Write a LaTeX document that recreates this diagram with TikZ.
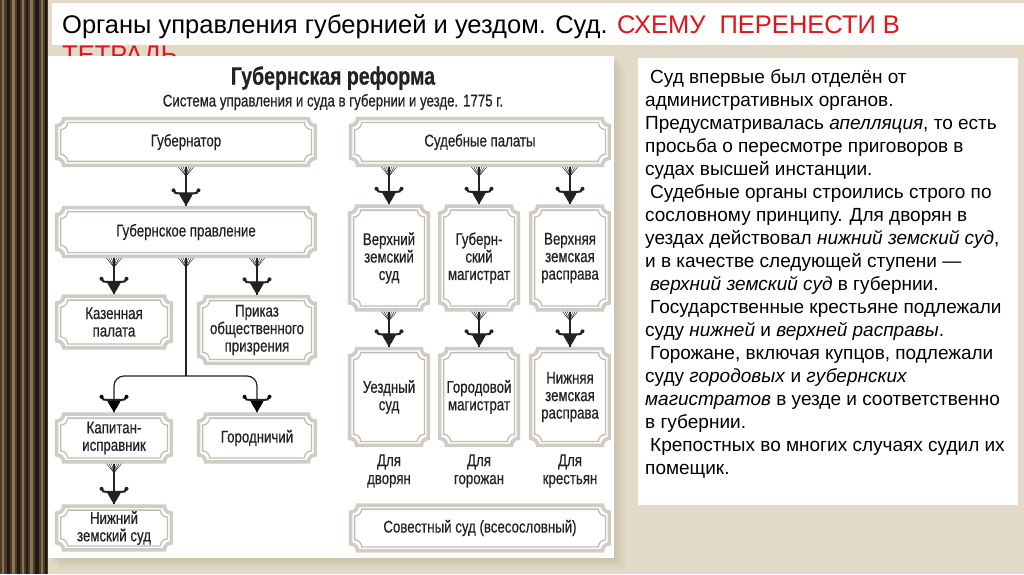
\documentclass[tikz,border=0pt]{standalone}
\usepackage{fontspec}
\setmainfont{Liberation Sans}
\newfontfamily\dfont[FakeStretch=0.78, FakeBold=0.5]{Liberation Sans}
\usetikzlibrary{arrows.meta, positioning, decorations.markings, calc}
\definecolor{mInk}{HTML}{222222}
\definecolor{mRed}{HTML}{E3141B}
\definecolor{mBeige}{HTML}{E2D9C8}
\definecolor{mShadow}{HTML}{8C7B60}
\definecolor{mFrameOut}{HTML}{D0CBC4}
\definecolor{mFrameIn}{HTML}{C2BCB4}
\definecolor{mWood}{HTML}{4B3B2B}
\definecolor{mWoodL}{HTML}{8C7453}
\definecolor{mWoodD}{HTML}{221A12}

\newcommand{\fanmark}{\foreach \a in {-7.5,-5,...,7.5} \draw[line width=0.45] (0,\a) -- (9,0);}
\newcommand{\tipmark}{%
  \begin{scope}[sharp corners]
  \fill (0,0) .. controls (-4,2.5) and (-8,5) .. (-13,7.5) -- (-13,-7.5) .. controls (-8,-5) and (-4,-2.5) .. (0,0);
  \draw[line width=2] (-15.5,-12) .. controls (-12.5,-11) .. (-12.5,-8) -- (-12.5,8) .. controls (-12.5,11) .. (-15.5,12);
  \fill (-15.5,-12.5) circle (2) (-15.5,12.5) circle (2);
  \end{scope}}

\begin{document}
\begin{tikzpicture}[x=1pt, y=1pt,
  plate/.style 2 args={minimum width=#1, minimum height=#2, inner sep=0pt, align=center,
    text=mInk, font=\dfont\fontsize{17}{17.5}\selectfont},
  fr/.style n args={3}{insert path={
    ([shift={(#2,-#2-#3)}]#1.north west) arc[start angle=270, end angle=360, radius=#3]
    -- ([shift={(-#2-#3,-#2)}]#1.north east) arc[start angle=180, end angle=270, radius=#3]
    -- ([shift={(-#2,#2+#3)}]#1.south east) arc[start angle=90, end angle=180, radius=#3]
    -- ([shift={(#2+#3,#2)}]#1.south west) arc[start angle=0, end angle=90, radius=#3]
    -- cycle}},
  link/.style={line width=1.2, draw=mInk, fill=mInk, postaction={decorate},
    decoration={markings, mark=at position 0 with {\fanmark}, mark=at position 1 with {\tipmark}}},
  stem/.style={line width=1.2, draw=mInk, postaction={decorate},
    decoration={markings, mark=at position 0 with {\fanmark}}},
  branch/.style={line width=1.2, draw=mInk, rounded corners=10, postaction={decorate},
    decoration={markings, mark=at position 1 with {\tipmark}}},
  group/.style={align=center, text=mInk, font=\dfont\fontsize{17}{18}\selectfont}]

  % background
  \fill[mBeige] (0,0) rectangle (1024,574);
  \useasboundingbox (0,0) rectangle (1024,574);
  \fill[mWood] (0,0) rectangle (48,574);
  \foreach \x/\w/\c in {2/2/mWoodL, 7/3/mWoodD, 12/3/mWoodL, 17/3/mWoodD, 22/2/mWoodL,
                        26/2/mWoodD, 30/3/mWoodL, 35/4/mWoodD, 41/2/mWoodL, 45/2/mWoodD}
    \fill[\c] (\x,0) rectangle ++(\w,574);

  % heading
  \fill[white] (52,529) rectangle (1024,571);
  \node[anchor=base west, inner sep=0pt, font=\fontsize{25.5}{30}\selectfont] (head) at (62,540)
    {Органы управления губернией и уездом. Суд. \textcolor{mRed}{СХЕМУ~~ПЕРЕНЕСТИ В}};
  \node[anchor=base west, inner sep=0pt, font=\fontsize{25.5}{30}\selectfont, text=mRed] (head2)
    at ([yshift=-30]head.base west) {ТЕТРАДЬ};

  % panels
  \foreach \s/\o in {12/0.04, 9/0.05, 6/0.06, 3/0.07}
    \fill[mShadow, opacity=\o] (48+\s,16-\s) rectangle (614+\s,518-\s);
  \fill[white] (48,16) rectangle (614,518);
  \fill[white] (638,69) rectangle (1018,516);

  % titles
  \node[text=mInk, font=\dfont\bfseries\fontsize{25}{28}\selectfont] (ttl) at (333,496) {Губернская реформа};
  \node[text=mInk, font=\dfont\fontsize{17}{20}\selectfont] (sub) at (333,472)
    {Система управления и суда в губернии и уезде. 1775 г.};

  % administration
  \node[plate={262}{50}] (gub) at (186,432) {Губернатор};
  \node[plate={262}{52}] (gubpr) at (186,342) {Губернское правление};
  \node[plate={118}{55}] (kaz) at (114,252) {Казенная\\палата};
  \node[plate={120}{70}] (prik) at (257,244) {Приказ\\общественного\\призрения};
  \node[plate={118}{51}] (kap) at (114,136) {Капитан-\\исправник};
  \node[plate={120}{51}] (gor) at (257,136) {Городничий};
  \node[plate={118}{47}] (nizh) at (114,46) {Нижний\\земский суд};

  % courts
  \node[plate={262}{50}] (sud) at (480,432) {Судебные палаты};
  \node[plate={82}{107}] (vzs) at (389,316) {Верхний\\земский\\суд};
  \node[plate={82}{107}] (gmag) at (479,316) {Губерн-\\ский\\магистрат};
  \node[plate={82}{107}] (vzr) at (570,316) {Верхняя\\земская\\расправа};
  \node[plate={82}{100}] (uezd) at (389,177) {Уездный\\суд};
  \node[plate={82}{100}] (gorm) at (479,177) {Городовой\\магистрат};
  \node[plate={82}{100}] (nzr) at (570,177) {Нижняя\\земская\\расправа};
  \node[group] (dvor) at (389,103) {Для\\дворян};
  \node[group] (goro) at (479,103) {Для\\горожан};
  \node[group] (kres) at (570,103) {Для\\крестьян};
  \node[plate={262}{49}] (sov) at (480,46) {Совестный суд (всесословный)};

  \foreach \n in {gub,gubpr,kaz,prik,kap,gor,nizh,sud,vzs,gmag,vzr,uezd,gorm,nzr,sov} {
    \draw[line width=3.6, mFrameOut, fr={\n}{1.8}{7}];
    \draw[line width=1.3, mFrameIn, fr={\n}{5.8}{7}];
  }

  % links
  \draw[link] (gub.south) -- (gubpr.north);
  \draw[link] (gubpr.south -| kaz) -- (kaz.north);
  \draw[link] (gubpr.south -| prik) -- (prik.north);
  \coordinate (fork) at (gubpr.south |- 0,198);
  \draw[stem] (gubpr.south) -- (fork);
  \draw[branch] (fork) -| (kap.north);
  \draw[branch] (fork) -| (gor.north);
  \draw[link] (kap.south) -- (nizh.north);
  \foreach \b in {vzs,gmag,vzr}
    \draw[link] (sud.south -| \b) -- (\b.north);
  \foreach \a/\b in {vzs/uezd, gmag/gorm, vzr/nzr}
    \draw[link] (\a.south) -- (\b.north);

  % notes
  \node[anchor=north west, inner sep=0pt, align=left, font=\fontsize{19}{23}\selectfont] (note) at (645,507)
    {\strut\hspace*{5pt}Суд впервые был отделён от\\
     административных органов.\\
     Предусматривалась \textit{апелляция}, то есть\\
     просьба о пересмотре приговоров в\\
     судах высшей инстанции.\\
     \hspace*{5pt}Судебные органы строились строго по\\
     сословному принципу. Для дворян в\\
     уездах действовал \textit{нижний земский суд},\\
     и в качестве следующей ступени —\\
     \hspace*{5pt}\textit{верхний земский суд} в губернии.\\
     \hspace*{5pt}Государственные крестьяне подлежали\\
     суду \textit{нижней} и \textit{верхней расправы}.\\
     \hspace*{5pt}Горожане, включая купцов, подлежали\\
     суду \textit{городовых} и \textit{губернских}\\
     \textit{магистратов} в уезде и соответственно\\
     в губернии.\\
     \hspace*{5pt}Крепостных во многих случаях судил их\\
     помещик.};
\end{tikzpicture}
\end{document}
